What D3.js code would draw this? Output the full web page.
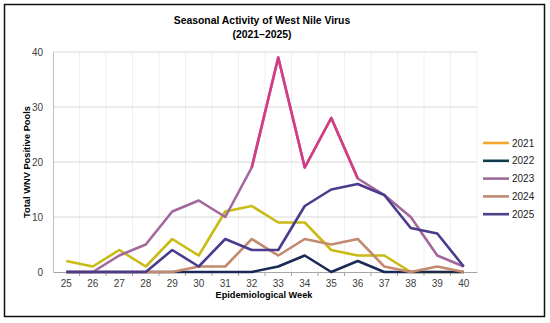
<!DOCTYPE html>
<html>
<head>
<meta charset="utf-8">
<script src="https://cdn.jsdelivr.net/npm/d3@7"></script>
<style>
  body { margin: 0; background: #fff; }
  text { font-family: "Liberation Sans", Arial, sans-serif; }
</style>
</head>
<body>
<svg id="chart" width="550" height="323"></svg>
<script>
const weeks = [25, 26, 27, 28, 29, 30, 31, 32, 33, 34, 35, 36, 37, 38, 39, 40];
const years = ['2021', '2022', '2023', '2024', '2025'];

const pools2021 = [2, 1, 4, 1, 6, 3, 11, 12, 9, 9, 4, 3, 3, 0, 0, 0];
const pools2022 = [0, 0, 0, 0, 0, 0, 0, 0, 1, 3, 0, 2, 0, 0, 0, 0];
const pools2023 = [0, 0, 3, 5, 11, 13, 10, 19, 39, 19, 28, 17, 14, 10, 3, 1];
const pools2024 = [0, 0, 0, 0, 0, 1, 1, 6, 3, 6, 5, 6, 1, 0, 1, 0];
const pools2025 = [0, 0, 0, 0, 4, 1, 6, 4, 4, 12, 15, 16, 14, 8, 7, 1];

const yTicks = [0, 10, 20, 30, 40];

// line colours as drawn, and the (slightly different) legend swatches
const lineColors = ['#c9bb14', '#1b2a55', '#a2679b', '#c28a6e', '#4a3b8c'];
const legendColors = ['#f6a330', '#0f3a4e', '#9c6a96', '#c08a70', '#4b4387'];
const peakColor = '#d63c86'; // 2023 peak segment (weeks 32-36)
const peakWeeks = [32, 36];

const series = [pools2021, pools2022, pools2023, pools2024, pools2025];

const svg = d3.select('#chart');

// outer frame
svg.append('rect')
  .attr('x', 4.5).attr('y', 4.5)
  .attr('width', 540).attr('height', 312)
  .attr('fill', '#fff')
  .attr('stroke', '#111')
  .attr('stroke-width', 1.5);

// title
svg.append('text')
  .attr('x', 262).attr('y', 24)
  .attr('text-anchor', 'middle')
  .style('font-size', '10.4px').style('font-weight', 'bold')
  .text('Seasonal Activity of West Nile Virus');
svg.append('text')
  .attr('x', 262).attr('y', 38)
  .attr('text-anchor', 'middle')
  .style('font-size', '10.4px').style('font-weight', 'bold')
  .text('(2021–2025)');

const plot = { left: 53, right: 477, top: 52, bottom: 272 };

const x = d3.scaleBand()
  .domain(weeks)
  .range([plot.left, plot.right]);

const y = d3.scaleLinear()
  .domain([0, 40])
  .range([plot.bottom, plot.top]);

const cx = w => x(w) + x.bandwidth() / 2;

// vertical gridlines (category boundaries)
svg.append('g')
  .selectAll('line')
  .data(weeks.slice(1).concat(['end']))
  .join('line')
  .attr('x1', d => d === 'end' ? plot.right : x(d))
  .attr('x2', d => d === 'end' ? plot.right : x(d))
  .attr('y1', plot.top).attr('y2', plot.bottom)
  .attr('stroke', '#f0eef2');

// horizontal gridlines
svg.append('g')
  .selectAll('line')
  .data(yTicks.slice(1))
  .join('line')
  .attr('x1', plot.left).attr('x2', plot.right)
  .attr('y1', d => y(d)).attr('y2', d => y(d))
  .attr('stroke', '#d9d9d9');

// y axis
const yAxis = svg.append('g')
  .attr('transform', `translate(${plot.left},0)`)
  .call(d3.axisLeft(y).tickValues(yTicks).tickSize(0).tickPadding(10));
yAxis.select('.domain').attr('stroke', '#bfbfbf');
yAxis.selectAll('text').style('font-size', '10px').attr('fill', '#404040')
  .style('font-family', '"Liberation Sans", Arial, sans-serif');

// x axis
const xAxis = svg.append('g')
  .attr('transform', `translate(0,${plot.bottom})`)
  .call(d3.axisBottom(x).tickSize(0).tickPadding(8));
xAxis.select('.domain').attr('stroke', '#a6a6a6');
xAxis.selectAll('text').style('font-size', '10px').attr('fill', '#404040')
  .style('font-family', '"Liberation Sans", Arial, sans-serif');
// tick marks at category boundaries
xAxis.append('g')
  .selectAll('line')
  .data(weeks.slice(1))
  .join('line')
  .attr('x1', d => x(d)).attr('x2', d => x(d))
  .attr('y1', 0).attr('y2', 4)
  .attr('stroke', '#a6a6a6');

// axis titles
svg.append('text')
  .attr('transform', `translate(30,${(plot.top + plot.bottom) / 2}) rotate(-90)`)
  .attr('text-anchor', 'middle')
  .style('font-size', '9.3px').style('font-weight', 'bold')
  .text('Total WNV Positive Pools');

svg.append('text')
  .attr('x', 264).attr('y', 298)
  .attr('text-anchor', 'middle')
  .style('font-size', '9.2px').style('font-weight', 'bold')
  .text('Epidemiological Week');

// lines
const line = d3.line()
  .x((d, i) => cx(weeks[i]))
  .y(d => y(d));

const lines = svg.append('g').attr('fill', 'none')
  .attr('stroke-width', 2.6)
  .attr('stroke-linejoin', 'round');

series.forEach((vals, s) => {
  lines.append('path')
    .attr('d', line(vals))
    .attr('stroke', lineColors[s]);
});

// 2023 peak section drawn in pink
const i0 = weeks.indexOf(peakWeeks[0]);
const i1 = weeks.indexOf(peakWeeks[1]);
lines.append('path')
  .attr('d', d3.line()
    .x((d, i) => cx(weeks[i0 + i]))
    .y(d => y(d))(pools2023.slice(i0, i1 + 1)))
  .attr('stroke', peakColor);

// legend
const legend = svg.append('g');
years.forEach((yr, i) => {
  const ly = 143 + i * 17.8;
  legend.append('line')
    .attr('x1', 483).attr('x2', 509)
    .attr('y1', ly).attr('y2', ly)
    .attr('stroke', legendColors[i])
    .attr('stroke-width', 2.6);
  legend.append('text')
    .attr('x', 512).attr('y', ly + 3.5)
    .style('font-size', '10px').attr('fill', '#222')
    .text(yr);
});
</script>
</body>
</html>
